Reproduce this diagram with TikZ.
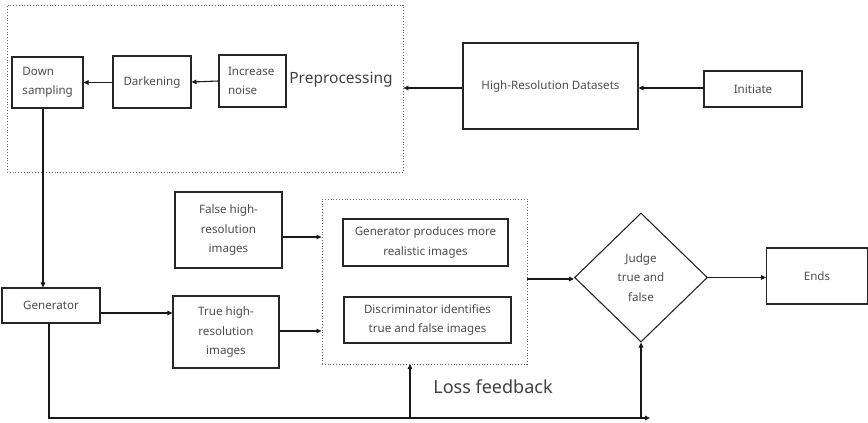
\documentclass[tikz,border=0pt]{standalone}
\usepackage{fontspec}
\setmainfont{Noto Sans}
\usetikzlibrary{shapes.geometric,arrows.meta}
\begin{document}
\begin{tikzpicture}[x=1pt,y=-1pt,
  box/.style={draw=black!85,line width=1.1pt,rectangle,inner sep=0pt,align=center,
    text=black!70,font=\fontsize{11.6pt}{19.5pt}\selectfont},
  dotbox/.style={draw=black!60,line width=0.8pt,dotted,rectangle,inner sep=0pt},
  arr/.style={line width=1.1pt,draw=black!90,-{Triangle[length=5pt,width=4.5pt]}},
  big/.style={text=black!75,font=\fontsize{15.5pt}{19pt}\selectfont,inner sep=0pt},
  big2/.style={text=black!75,font=\fontsize{18pt}{19pt}\selectfont,inner sep=0pt}]
\useasboundingbox (0,0) rectangle (868,423);
% top row
\node[dotbox,minimum width=396pt,minimum height=167pt] (pre) at (205,88.5) {};
\node[box,minimum width=71pt,minimum height=51pt,text width=50pt,align=left] (down) at (47.5,82.5) {Down\\sampling};
\node[box,minimum width=78pt,minimum height=52pt] (dark) at (152,82) {Darkening};
\node[box,minimum width=67pt,minimum height=52pt,text width=49pt,align=left] (noise) at (252.5,81) {Increase\\noise};
\node[big] (pretext) at (341,80) {Preprocessing};
\node[box,minimum width=175pt,minimum height=86pt] (hrd) at (550.5,86) {High-Resolution Datasets};
\node[box,minimum width=98pt,minimum height=36pt] (init) at (753,89) {Initiate};
% lower part
\node[box,minimum width=98pt,minimum height=35pt] (gen) at (51,305.5) {Generator};
\node[box,minimum width=107pt,minimum height=76pt] (false) at (228.5,230) {False high-\\resolution\\images};
\node[box,minimum width=106pt,minimum height=72pt] (true) at (226,332) {True high-\\resolution\\images};
\node[dotbox,minimum width=205pt,minimum height=165pt] (gan) at (424.5,281.5) {};
\node[box,minimum width=165pt,minimum height=47pt] (gp) at (425.5,242.5) {Generator produces more\\realistic images};
\node[box,minimum width=167pt,minimum height=46pt] (disc) at (427.5,320) {Discriminator identifies\\true and false images};
\node[diamond,draw=black!85,line width=1.1pt,inner sep=0pt,minimum width=133pt,minimum height=129pt,
  align=center,text=black!70,font=\fontsize{11.6pt}{19.5pt}\selectfont] (judge) at (641,277.5) {Judge\\true and\\false};
\node[box,minimum width=101pt,minimum height=56pt] (ends) at (817,276) {Ends};
\node[big2] (loss) at (493,387) {Loss feedback};
\coordinate (bend) at (650,418);
% connectors
\draw[arr] (init.west |- 0,88) -- (hrd.east |- 0,88);
\draw[arr] (hrd.west |- 0,88) -- (pre.east |- 0,88);
\draw[arr] (noise.west) -- (dark.east);
\draw[arr] (dark.west |- 0,82.5) -- (down.east);
\draw[arr] (down.south -| 43,0) -- (gen.north -| 43,0);
\draw[arr] (gen.east |- 0,313) -- (true.west |- 0,313);
\draw[arr] (false.east |- 0,237) -- (gan.west |- 0,237);
\draw[arr] (true.east |- 0,331) -- (gan.west |- 0,331);
\draw[arr] (gan.east |- 0,279) -- (judge.west |- 0,279);
\draw[arr] (judge.east) -- (ends.west |- judge.east);
\draw[arr] (gen.south -| 49,0) |- (bend);
\draw[arr] (gan.south |- bend) ++(-14.5,0) -- ++(0,-54);
\draw[arr] (judge.south |- bend) -- (judge.south);
\end{tikzpicture}
\end{document}
